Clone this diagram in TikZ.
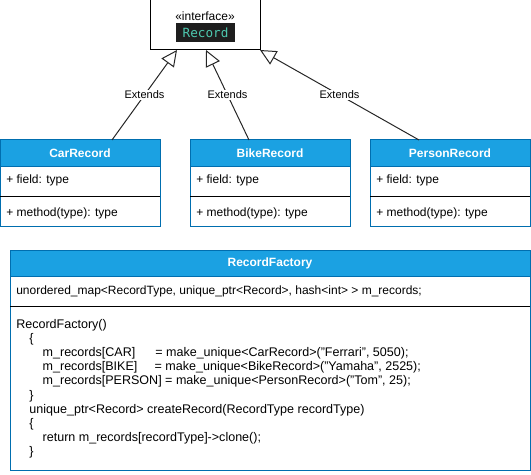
\documentclass[tikz,border=0pt]{standalone}
\usepackage{fontspec}
\setmainfont{Liberation Sans}
\newfontfamily\codefont{DejaVu Sans Mono}
\RequirePackage{xcolor}
\definecolor{umlblue}{RGB}{27,161,226}
\definecolor{umlstroke}{RGB}{0,110,175}
\definecolor{chipbg}{RGB}{30,30,30}
\definecolor{chipteal}{RGB}{78,201,176}
\usetikzlibrary{calc}
\usetikzlibrary{positioning,arrows.meta}
\tikzset{
  headbox/.style={draw=umlstroke, fill=umlblue, text=white, line width=0.75pt,
    font=\fontsize{9}{10.8}\selectfont\bfseries, minimum height=19.5pt,
    inner sep=0pt, outer sep=0pt, anchor=north west},
  boxline/.style={draw=umlstroke, line width=0.75pt},
  membertext/.style={anchor=west, inner sep=0pt, font=\fontsize{9}{10.8}\selectfont},
  extends/.style={draw=black!85, line width=0.75pt,
    -{Triangle[open, length=12pt, width=11.5pt]}},
  extlabel/.style={fill=white, inner sep=1pt, font=\fontsize{8.25}{9}\selectfont}
}
\newcommand{\codeindent}{\hspace*{9.9pt}}
\newcommand{\lhs}[2]{\makebox[#1][l]{#2}}

\begin{document}
\begin{tikzpicture}[x=0.75pt, y=-0.75pt]
  \useasboundingbox (0,0) rectangle (531,474);

  % interface
  \node [draw, line width=0.75pt, minimum width=82.5pt, minimum height=37.5pt,
    inner sep=0pt, outer sep=0pt] (iface) at (205,25) {};
  \node [font=\fontsize{9}{10.8}\selectfont, inner sep=0pt] (stereo) at (205,16) {«interface»};
  \node [fill=chipbg, text=chipteal, font=\fontsize{9.5}{11}\codefont, minimum width=44.25pt,
    minimum height=14.25pt, inner sep=0pt] (ifacename) at (205.5,32.5) {Record};

  \foreach \x/\name in {0/CarRecord, 190/BikeRecord, 370/PersonRecord} {
    \node [headbox, minimum width=120pt] (\name) at (\x,140) {\name};
    \draw [boxline] (\x,166) rectangle ++(160,60);
    \draw [line width=0.75pt] (\x,196) -- ++(160,0);
    \node [membertext] (\name field) at (\x+6,180) {+ field: type};
    \node [membertext] (\name method) at (\x+6,213) {+ method(type): type};
  }

  \draw [extends] ($(CarRecord.north)+(32,0)$) -- node [extlabel] {Extends} ($(iface.south)+(-28,0)$);
  \draw [extends] ($(BikeRecord.north)+(-21,0)$) -- node [extlabel] {Extends} ($(iface.south)+(1,0)$);
  \draw [extends] ($(PersonRecord.north)+(-31,0)$) -- node [extlabel] {Extends} (iface.south east);

  % factory
  \node [headbox, minimum width=390pt] (RecordFactory) at (10,250) {RecordFactory};
  \draw [boxline] (10,276) rectangle (530,470);
  \draw [line width=0.75pt] (10,306) -- (530,306);
  \node [membertext] (factoryfield) at (16,291)
    {unordered\_map<RecordType, unique\_ptr<Record>, hash<int> > m\_records;};
  \node [membertext, anchor=north west, align=left, font=\fontsize{9.4}{10.6}\selectfont]
    (factorycode) at (16,319) {%
    RecordFactory()\\
    \codeindent\{\\
    \codeindent\codeindent\lhs{84.5pt}{m\_records[CAR]}= make\_unique<CarRecord>("Ferrari", 5050);\\
    \codeindent\codeindent\lhs{84pt}{m\_records[BIKE]}= make\_unique<BikeRecord>("Yamaha", 2525);\\
    \codeindent\codeindent m\_records[PERSON] = make\_unique<PersonRecord>("Tom", 25);\\
    \codeindent\}\\
    \codeindent unique\_ptr<Record> createRecord(RecordType recordType)\\
    \codeindent\{\\
    \codeindent\codeindent return m\_records[recordType]->clone();\\
    \codeindent\}};

\end{tikzpicture}
\end{document}
